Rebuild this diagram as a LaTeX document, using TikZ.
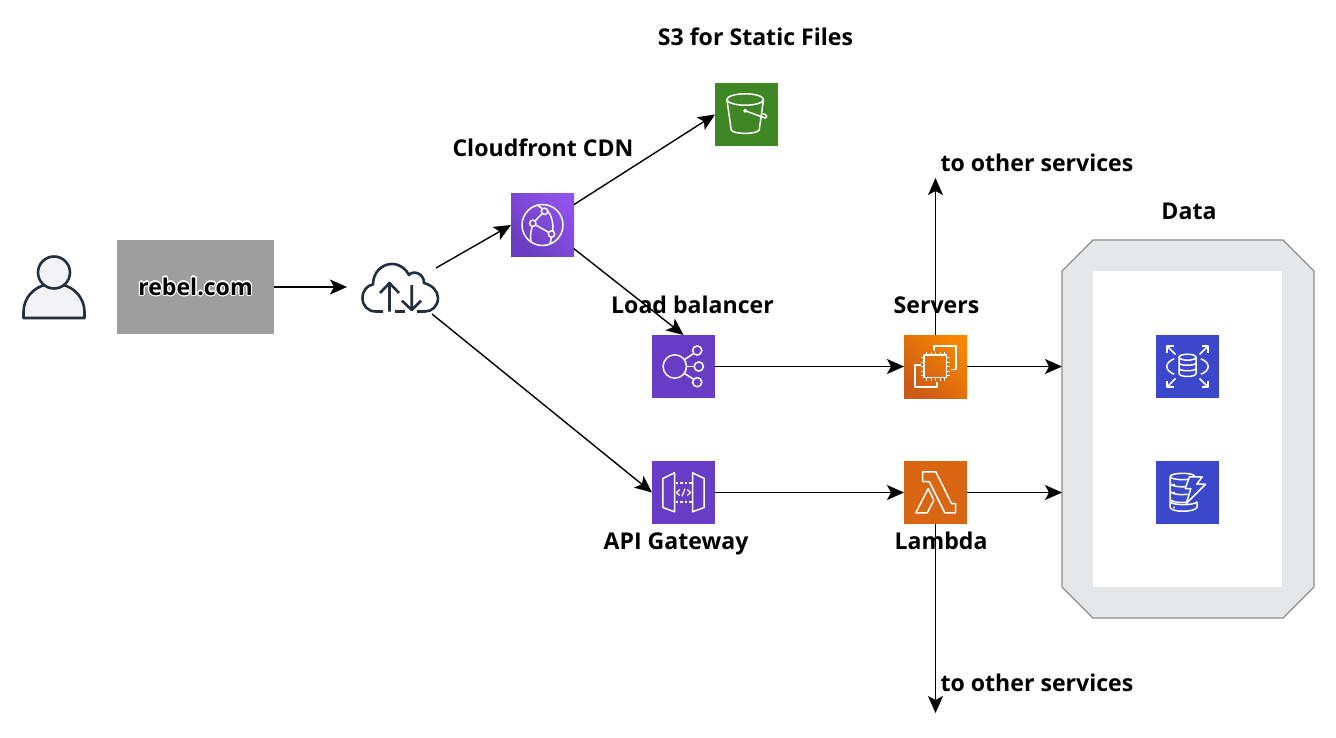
\documentclass[tikz,border=0pt]{standalone}
\usepackage{fontspec}
\usepackage[copies]{contour}
\setsansfont{Open Sans}
\usetikzlibrary{arrows.meta, calc}
\definecolor{siteboxcol}{HTML}{9E9E9E}
\definecolor{inkcol}{HTML}{232F3E}
\definecolor{usercol}{HTML}{F2F3F6}
\definecolor{netcol}{HTML}{693CC5}
\definecolor{netlow}{HTML}{6A3DC0}
\definecolor{nethigh}{HTML}{8F52EA}
\definecolor{storecol}{HTML}{3F8624}
\definecolor{lambdacol}{HTML}{D86613}
\definecolor{computelow}{HTML}{CC5A17}
\definecolor{computehigh}{HTML}{F68600}
\definecolor{dbcol}{HTML}{3B48CC}
\definecolor{framecol}{HTML}{E6E7E8}
\definecolor{frameline}{HTML}{8C8C8C}
\contourlength{1.1pt}

\begin{document}
\begin{tikzpicture}[
  x=1pt, y=-1pt,
  icon/.style={minimum size=63pt, inner sep=0pt, outer sep=0pt},
  label/.style={font=\sffamily\bfseries\fontsize{23.1}{27}\selectfont, text=black, inner sep=0pt},
  conn/.style={-{Stealth[length=17pt, width=15pt, inset=4pt]}, line width=1.4pt, black},
  glyph/.style={draw=white, line width=1.5pt, line join=round},
  ink/.style={draw=inkcol, line width=2.6pt, line join=round}
]
\useasboundingbox (0,0) rectangle (1336,738);

% ============ LEFT: user, site, cloud ============

\node[minimum width=64pt, minimum height=64pt] (user) at (54,286) {};
\begin{scope}[shift={(user.center)}]
  \draw[ink, fill=usercol] (-30.5,32) -- (-30.5,26) .. controls (-30.5,11) and (-19,1) .. (-9,-1)
    -- (9,-1) .. controls (19,1) and (30.5,11) .. (30.5,26) -- (30.5,32) -- cycle;
  \draw[ink, fill=usercol] (0,-13.5) circle (16);
\end{scope}

\node[fill=siteboxcol, minimum width=157pt, minimum height=94pt, inner sep=0pt,
  font=\sffamily\bfseries\fontsize{23.1}{27}\selectfont] (site) at (195.5,287)
  {\raisebox{-2pt}{\contour{white}{rebel.com}}};

\node[minimum width=78pt, minimum height=50pt, inner sep=0pt] (cloud) at (400,288) {};
\begin{scope}[shift={(cloud.center)}]
  \draw[ink, line cap=butt] (-17,23.5) -- (-24,23.5) .. controls (-32,23.5) and (-37.5,18) .. (-37.5,10)
    .. controls (-37.5,2) and (-32,-3) .. (-27,-3.5) .. controls (-27,-16) and (-18,-24) .. (-8,-24)
    .. controls (0,-24) and (6,-19) .. (9,-13) .. controls (13,-18) and (24,-15) .. (24,-5)
    .. controls (32,-3) and (38,3) .. (38,10) .. controls (38,18) and (32,23.5) .. (25,23.5) -- (17,23.5);
  \draw[ink, line cap=butt] (-5,23.5) -- (5,23.5);
  \draw[ink] (-10.5,23.5) -- (-10.5,-5) (-20,5) -- (-10.5,-5) -- (-1,5);
  \draw[ink] (11.7,-3) -- (11.7,22) (2,12.7) -- (11.7,22) -- (21,12.7);
\end{scope}

% ============ MIDDLE: cdn, s3, lb, api ============

\node[icon, left color=netlow, right color=nethigh, shading angle=135] (cdn) at (542.5,225) {};
\begin{scope}[shift={(cdn.center)}]
  \draw[glyph] (0,0) circle (20.5);
  \foreach \px/\py in {2/-13.7, -9.7/-1.7, 9/9}{
    \draw[glyph] (\px,\py) circle (3.2);
  }
  \draw[glyph] (-0.5,-11.2) -- (-7.5,-4);
  \draw[glyph] (-6.8,0) -- (6,7.3);
  \draw[glyph] (-4.5,-19.5) .. controls (-3,-18.5) and (-1.5,-17.5) .. (0,-16.2);
  \draw[glyph] (5,-14.5) .. controls (9,-10) and (11,-2) .. (10.2,6);
  \draw[glyph] (-10.2,1.5) .. controls (-12,7) and (-12.5,12) .. (-11.5,17);
  \draw[glyph] (9,12.2) -- (7.5,19);
\end{scope}

\node[icon, fill=storecol] (s3) at (746.5,114.5) {};
\begin{scope}[shift={(s3.center)}]
  \draw[glyph] (-1.3,-15) circle [x radius=18.3, y radius=5.7];
  \draw[glyph] (-19.6,-15) -- (-15.3,15.5) .. controls (-13,20) and (10,20) .. (12.7,15.5) -- (17,-15);
  \draw[glyph] (-1.3,-3.7) -- (18.5,3.5);
  \draw[glyph, fill=white] (-1.3,-3.7) circle (1.2);
  \draw[glyph] (16,-1) .. controls (21,0) and (21,3) .. (18.5,3.5);
\end{scope}

\node[icon, fill=netcol] (lb) at (683.5,366.5) {};
\begin{scope}[shift={(lb.center)}]
  \draw[glyph] (-8.7,0) circle (11.7);
  \foreach \py in {-16,15.7}{
    \draw[glyph] (13.7,\py) circle (4.6);
  }
  \draw[glyph] (15.3,0) circle (4.6);
  \draw[glyph] (1,-7) -- (10.2,-13);
  \draw[glyph] (3,0) -- (10.7,0);
  \draw[glyph] (1,7) -- (10.2,12.8);
\end{scope}

\node[icon, fill=netcol] (api) at (683.5,492.5) {};
\begin{scope}[shift={(api.center)}]
  \draw[glyph] (-20.7,-14) -- (-9,-19.7) -- (-9,19.3) -- (-20.7,15) -- cycle;
  \draw[glyph] (9,-19.7) -- (20.7,-14) -- (20.7,15) -- (9,19.3) -- cycle;
  \draw[glyph, dash pattern=on 2.5pt off 2pt] (-8,-9.7) -- (8,-9.7);
  \draw[glyph, dash pattern=on 2.5pt off 2pt] (-8,9.3) -- (8,9.3);
  \draw[glyph, line width=1.2pt] (-3.8,-3) -- (-7,0) -- (-3.8,3);
  \draw[glyph, line width=1.2pt] (3.8,-3) -- (7,0) -- (3.8,3);
  \draw[glyph, line width=1.2pt] (-1.5,3.8) -- (1.5,-3.8);
\end{scope}

% ============ RIGHT: ec2, lambda, data ============

\node[icon, left color=computelow, right color=computehigh, shading angle=135] (ec2) at (935.5,366.5) {};
\begin{scope}[shift={(ec2.center)}]
  \draw[glyph] (-11.7,-11.7) rectangle (11,11);
  \foreach \t in {-9,-4.5,0,4.5,9}{
    \draw[glyph, line width=1pt] (\t,-15) -- (\t,-11.7);
    \draw[glyph, line width=1pt] (\t,11) -- (\t,14.3);
    \draw[glyph, line width=1pt] (-15,\t) -- (-11.7,\t);
    \draw[glyph, line width=1pt] (11,\t) -- (14.3,\t);
  }
  \draw[glyph] (-1.7,-15.7) -- (-1.7,-20.3) -- (20.3,-20.3) -- (20.3,3) -- (15,3);
  \draw[glyph] (-15,-1.7) -- (-20.7,-1.7) -- (-20.7,20.3) -- (1.7,20.3) -- (1.7,15);
\end{scope}

\node[icon, fill=lambdacol] (lambda) at (935.5,492.5) {};
\begin{scope}[shift={(lambda.center)}]
  \draw[glyph] (-13,-20.7) -- (0.3,-20.7) -- (16,11) -- (20,11) -- (20,20.3) -- (9.3,20.3)
    -- (-6.3,-11) -- (-13,-11) -- cycle;
  \draw[glyph] (-7.3,-4) -- (-1.7,7.7) -- (-8.3,20.3) -- (-19.7,20.3) -- cycle;
\end{scope}

% frame round the two data stores
\node[minimum width=252pt, minimum height=378pt, inner sep=0pt, outer sep=0pt] (data) at (1188,429) {};
\draw[draw=frameline, fill=framecol, line width=1.2pt]
  (1093,240) -- (1283,240) -- (1314,271) -- (1314,587) -- (1283,618) -- (1093,618)
  -- (1062,587) -- (1062,271) -- cycle;
\node[fill=white, minimum width=189pt, minimum height=316pt, inner sep=0pt] (datainner) at (1187.5,429) {};

\node[icon, fill=dbcol] (rds) at (1187.5,366.5) {};
\begin{scope}[shift={(rds.center)}]
  \draw[glyph] (0,-9.3) circle [x radius=8.5, y radius=3];
  \draw[glyph] (-8.5,-9.3) -- (-8.5,7) .. controls (-8,11) and (8,11) .. (8.5,7) -- (8.5,-9.3);
  \draw[glyph] (-8.5,-3.5) .. controls (-8,-0.5) and (8,-0.5) .. (8.5,-3.5);
  \draw[glyph] (-8.5,2) .. controls (-8,5) and (8,5) .. (8.5,2);
  \draw[glyph] (-13.3,-7.7) .. controls (-18,-6) and (-20.7,-3) .. (-20.7,0) .. controls (-20.7,3) and (-18,6) .. (-13.3,7.7);
  \draw[glyph] (13.3,-7.7) .. controls (18,-6) and (20.7,-3) .. (20.7,0) .. controls (20.7,3) and (18,6) .. (13.3,7.7);
  \foreach \sx/\sy in {-1/-1, 1/-1, -1/1, 1/1}{
    \draw[glyph] (\sx*12,\sy*12) -- (\sx*20.5,\sy*20.5);
    \draw[glyph] (\sx*20.5,\sy*14) -- (\sx*20.5,\sy*20.5) -- (\sx*14,\sy*20.5);
  }
\end{scope}

\node[icon, fill=dbcol] (dynamo) at (1187.5,492.5) {};
\begin{scope}[shift={(dynamo.center)}]
  \draw[glyph] (-5,-16) circle [x radius=12.3, y radius=3.2];
  \draw[glyph] (-17.3,-16) -- (-17.3,15) .. controls (-16,20) and (6,20) .. (9.5,15) -- (9.5,9);
  \foreach \ly/\lx in {-8.5/0, -0.7/0, 7.2/-1}{
    \draw[glyph] (-17.3,\ly) .. controls (-14,\ly+3) and (-6,\ly+3.2) .. (\lx,\ly+2.5);
  }
  \draw[glyph] (-17.3,9.5) .. controls (-14,13) and (6,13) .. (9.5,9.5);
  \draw[glyph, fill=dbcol] (2,-15.7) -- (14.7,-15.7) -- (9.3,-8.3) -- (18,-8.3) -- (-1.3,11) -- (3.3,-4) -- (-2.3,-4) -- cycle;
  \foreach \dy in {-8,0,15}{
    \fill[white] (-13.5,\dy) circle (1.1);
  }
\end{scope}

% ============ CONNECTORS ============

\coordinate (cloudin) at (347,287);
\coordinate (cloudup) at (436,268);
\coordinate (clouddown) at (432,314);
\coordinate (ec2out) at (935.5,178);
\coordinate (lambdaout) at (935.5,713);

\draw[conn] (site.east) -- (cloudin);
\draw[conn] (cloudup) -- (cdn.west);
\draw[conn] (clouddown) -- (api.west);
\draw[conn] (cdn.33) -- (s3.west);
\draw[conn] (cdn.-37) -- (lb.north);
\draw[conn] (lb.east) -- (ec2.west);
\draw[conn] (api.east) -- (lambda.west);
\draw[conn] (ec2.east) -- (ec2.east -| data.west);
\draw[conn] (lambda.east) -- (lambda.east -| data.west);
\draw[conn] (ec2.north) -- (ec2out);
\draw[conn] (lambda.south) -- (lambdaout);

% ============ LABELS ============

\node[label] (s3label) at (755.5,37) {S3 for Static Files};
\node[label] (cdnlabel) at (543,148) {Cloudfront CDN};
\node[label] (lblabel) at (692.5,305) {Load balancer};
\node[label] (ec2label) at (936.5,305) {Servers};
\node[label] (apilabel) at (676,544) {API Gateway};
\node[label] (lambdalabel) at (941,541) {Lambda};
\node[label] (datalabel) at (1189,211.5) {Data};
\node[label] (ec2note) at (1037,163) {to other services};
\node[label] (lambdanote) at (1037,683) {to other services};
\end{tikzpicture}
\end{document}
